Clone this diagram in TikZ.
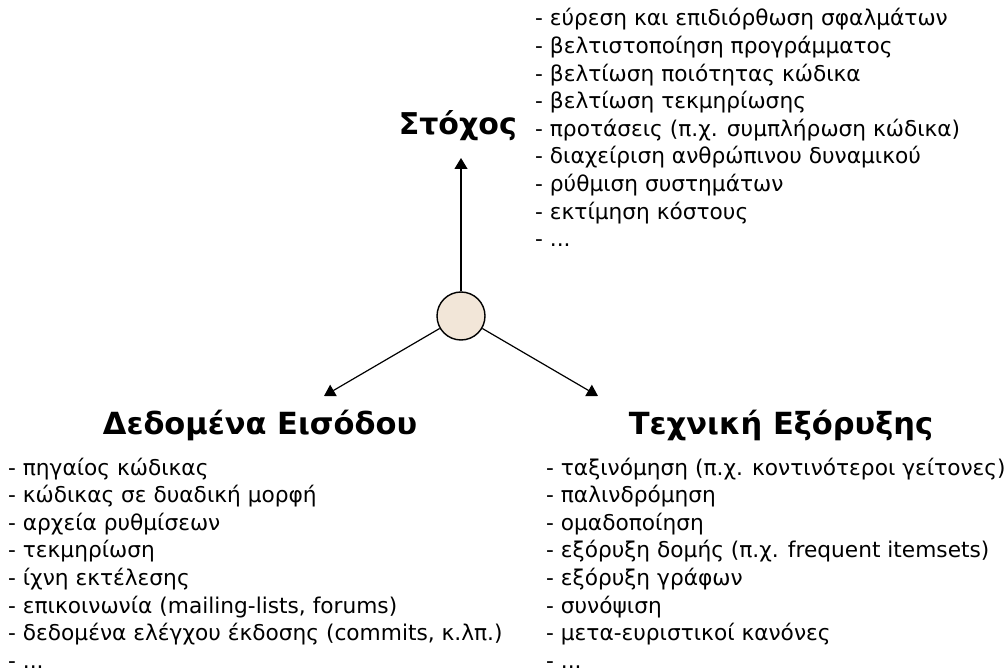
\documentclass[tikz,border=0pt]{standalone}
\usepackage{fontspec}
\setmainfont{DejaVu Sans}
\usetikzlibrary{arrows.meta}
\definecolor{hubfill}{RGB}{242,230,216}
\tikzset{
  heading/.style={font=\fontsize{30.5}{36}\selectfont\bfseries, inner sep=0pt},
  item/.style={font=\fontsize{21.7}{27.6}\selectfont, inner sep=0pt, anchor=base west},
  hub/.style={circle, draw, line width=1.4pt, fill=hubfill, minimum size=48pt, inner sep=0pt},
  link/.style={line width=1.2pt, -{Triangle[length=11pt, width=13pt]}}
}
\begin{document}
\begin{tikzpicture}[x=1pt, y=-1pt]
\useasboundingbox (0,0) rectangle (1005,671);

% central hub and the three branches
\node[hub] (hub) at (461,316) {};
\coordinate (goaltip) at (461,158);
\coordinate (intip) at (324,396);
\coordinate (mintip) at (598,396);
\draw[link] (hub) -- (goaltip);
\draw[link] (hub) -- (intip);
\draw[link] (hub) -- (mintip);

% headings
\node[heading, font=\fontsize{30}{36}\selectfont\bfseries, anchor=base east] (goal) at (517,135) {Στόχος};
\node[heading, anchor=base] (input) at (260,434) {Δεδομένα Εισόδου};
\node[heading, anchor=base] (mining) at (781,434) {Τεχνική Εξόρυξης};

% goal items
\foreach [count=\i] \t in {
  {- εύρεση και επιδιόρθωση σφαλμάτων},
  {- βελτιστοποίηση προγράμματος},
  {- βελτίωση ποιότητας κώδικα},
  {- βελτίωση τεκμηρίωσης},
  {- προτάσεις (π.χ. συμπλήρωση κώδικα)},
  {- διαχείριση ανθρώπινου δυναμικού},
  {- ρύθμιση συστημάτων},
  {- εκτίμηση κόστους}}
  \node[item] (g\i) at (535, 26+27.6*\i-27.6) {\t};
\node[item] (g9) at (535, 26+27.6*8) {- ...};

% input items
\foreach [count=\i] \t in {
  {- πηγαίος κώδικας},
  {- κώδικας σε δυαδική μορφή},
  {- αρχεία ρυθμίσεων},
  {- τεκμηρίωση},
  {- ίχνη εκτέλεσης},
  {- επικοινωνία (mailing-lists, forums)},
  {- δεδομένα ελέγχου έκδοσης (commits, κ.λπ.)}}
  \node[item] (d\i) at (8, 475+27.6*\i-27.6) {\t};
\node[item] (d8) at (8, 475+27.6*7) {- ...};

% mining technique items
\foreach [count=\i] \t in {
  {- ταξινόμηση (π.χ. κοντινότεροι γείτονες)},
  {- παλινδρόμηση},
  {- ομαδοποίηση},
  {- εξόρυξη δομής (π.χ. frequent itemsets)},
  {- εξόρυξη γράφων},
  {- συνόψιση},
  {- μετα-ευριστικοί κανόνες}}
  \node[item] (m\i) at (546, 475+27.6*\i-27.6) {\t};
\node[item] (m8) at (546, 475+27.6*7) {- ...};
\end{tikzpicture}
\end{document}
